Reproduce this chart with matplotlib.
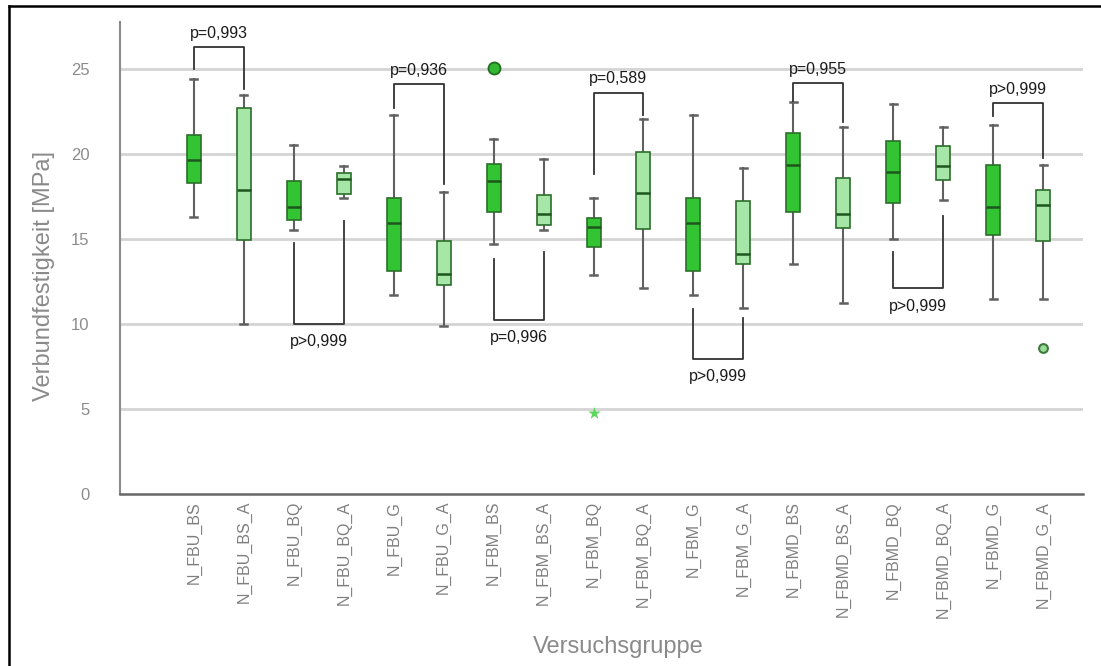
import matplotlib
matplotlib.use("Agg")
import matplotlib.pyplot as plt
from matplotlib.lines import Line2D

plt.rcParams['font.family'] = ['Liberation Sans', 'DejaVu Sans']

# Versuchsgruppen
gruppen = ["N_FBU_BS", "N_FBU_BS_A", "N_FBU_BQ", "N_FBU_BQ_A", "N_FBU_G", "N_FBU_G_A",
           "N_FBM_BS", "N_FBM_BS_A", "N_FBM_BQ", "N_FBM_BQ_A", "N_FBM_G", "N_FBM_G_A",
           "N_FBMD_BS", "N_FBMD_BS_A", "N_FBMD_BQ", "N_FBMD_BQ_A", "N_FBMD_G", "N_FBMD_G_A"]

# Kennwerte der Boxplots (MPa)
whisker_unten = [16.3, 10.0, 15.5, 17.4, 11.7, 9.9, 14.7, 15.55, 12.9, 12.1, 11.7, 10.95,
                 13.5, 11.25, 15.0, 17.3, 11.45, 11.45]
q1 = [18.3, 14.95, 16.1, 17.65, 13.1, 12.3, 16.6, 15.8, 14.5, 15.6, 13.1, 13.5,
      16.6, 15.65, 17.1, 18.45, 15.2, 14.85]
median = [19.65, 17.85, 16.85, 18.5, 15.95, 12.95, 18.4, 16.45, 15.7, 17.7, 15.95, 14.1,
          19.35, 16.45, 18.95, 19.3, 16.85, 17.0]
q3 = [21.1, 22.7, 18.4, 18.85, 17.4, 14.9, 19.4, 17.6, 16.25, 20.1, 17.4, 17.2,
      21.25, 18.6, 20.75, 20.45, 19.35, 17.85]
whisker_oben = [24.4, 23.45, 20.5, 19.3, 22.3, 17.75, 20.9, 19.7, 17.4, 22.05, 22.3, 19.15,
                23.05, 21.55, 22.95, 21.55, 21.7, 19.35]

# Ausreißer: (Gruppenindex, Wert)
ausreisser_kreis = [(6, 25.05)]
ausreisser_klein = [(17, 8.6)]
extremwert_stern = [(8, 4.75)]

# Signifikanz-Klammern: links, rechts, Höhe, Beinende links, Beinende rechts, Text, oben/unten
klammern = [
    (0, 1, 26.3, 25.0, 23.8, "p=0,993", "oben"),
    (2, 3, 10.0, 14.75, 16.05, "p>0,999", "unten"),
    (4, 5, 24.1, 22.7, 18.2, "p=0,936", "oben"),
    (6, 7, 10.25, 13.8, 14.2, "p=0,996", "unten"),
    (8, 9, 23.6, 18.8, 22.3, "p=0,589", "oben"),
    (10, 11, 7.95, 10.9, 10.35, "p>0,999", "unten"),
    (12, 13, 24.15, 23.1, 21.9, "p=0,955", "oben"),
    (14, 15, 12.1, 14.25, 16.35, "p>0,999", "unten"),
    (16, 17, 23.0, 22.2, 19.75, "p>0,999", "oben"),
]

dunkelgruen = "#33c433"
hellgruen = "#a6e6a6"

fig = plt.figure(figsize=(11.01, 6.66), dpi=100)
ax = fig.add_axes([120 / 1101, 1 - 494 / 666, 963 / 1101, 472 / 666])

stats = []
for i in range(len(gruppen)):
    stats.append({"whislo": whisker_unten[i], "q1": q1[i], "med": median[i],
                  "q3": q3[i], "whishi": whisker_oben[i], "fliers": []})

pos = list(range(len(gruppen)))
bp = ax.bxp(stats, positions=pos, widths=0.28, capwidths=0.14, patch_artist=True,
            showfliers=False,
            boxprops=dict(edgecolor="#2b6e2b", linewidth=1.2),
            medianprops=dict(color="#1d561d", linewidth=1.8),
            whiskerprops=dict(color="#606060", linewidth=1.5),
            capprops=dict(color="#606060", linewidth=1.8))
for i, box in enumerate(bp["boxes"]):
    box.set_facecolor(dunkelgruen if i % 2 == 0 else hellgruen)
    box.set_zorder(3)
for m in bp["medians"]:
    m.set_zorder(4)

# Ausreißer
ax.scatter([p for p, v in ausreisser_kreis], [v for p, v in ausreisser_kreis],
           s=75, color="#33b833", edgecolors="#236b23", linewidths=1.3, zorder=5)
ax.scatter([p for p, v in ausreisser_klein], [v for p, v in ausreisser_klein],
           s=40, color="#99dd99", edgecolors="#3d7a3d", linewidths=1.5, zorder=5)
ax.scatter([p for p, v in extremwert_stern], [v for p, v in extremwert_stern],
           s=90, marker="*", color="#5fd65f", linewidths=0, zorder=5)

# Klammern mit p-Werten
for a, b, h, la, lb, txt, lage in klammern:
    ax.plot([a, a, b, b], [la, h, h, lb], color="#333333", linewidth=1.3, zorder=6)
    if lage == "oben":
        ax.text((a + b) / 2, h + 0.8, txt, ha="center", va="center", fontsize=11.5,
                color="#1a1a1a", zorder=7)
    else:
        ax.text((a + b) / 2, h - 1.05, txt, ha="center", va="center", fontsize=11.5,
                color="#1a1a1a", zorder=7)

ax.set_xlim(-1.48, 17.8)
ax.set_ylim(0, 27.75)
ax.set_yticks([0, 5, 10, 15, 20, 25])
ax.set_xticks(pos)
ax.set_xticklabels(gruppen, rotation=90, fontsize=11.5, color="#7f7f7f")
ax.tick_params(axis="x", length=0, pad=5)
ax.tick_params(axis="y", length=0, pad=22, labelsize=12, labelcolor="#8c8c8c")

for y in [5, 10, 15, 20, 25]:
    ax.axhline(y, color="#d4d4d4", linewidth=2, zorder=1)

ax.spines["top"].set_visible(False)
ax.spines["right"].set_visible(False)
ax.spines["left"].set_color("#8a8a8a")
ax.spines["left"].set_linewidth(1.5)
ax.spines["bottom"].set_color("#666666")
ax.spines["bottom"].set_linewidth(1.8)

ax.set_ylabel("Verbundfestigkeit [MPa]", fontsize=17, color="#8a8a8a")
ax.yaxis.set_label_coords(-0.067, 0.462)
fig.text(618 / 1101, 1 - 647 / 666, "Versuchsgruppe", ha="center", va="center",
         fontsize=17, color="#8a8a8a")

# Rahmen oben und links
fig.add_artist(Line2D([9 / 1101, 9 / 1101], [0, 1 - 6 / 666], transform=fig.transFigure,
                      color="black", linewidth=1.8))
fig.add_artist(Line2D([9 / 1101, 1], [1 - 6 / 666, 1 - 6 / 666], transform=fig.transFigure,
                      color="black", linewidth=1.8))

fig.savefig("out.png", dpi=100)
